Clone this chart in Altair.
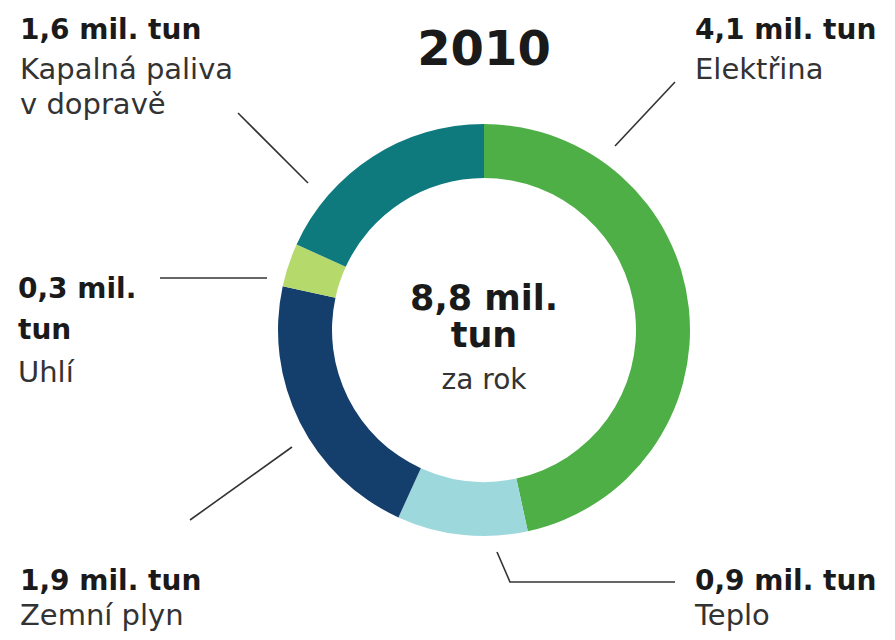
import altair as alt
import pandas as pd

# ---- data ----
categories = ["Elektřina", "Teplo", "Zemní plyn", "Uhlí", "Kapalná paliva v dopravě"]
values = [4.1, 0.9, 1.9, 0.3, 1.6]
colors = ["#4daf46", "#9dd8dc", "#143f6c", "#b6d96b", "#0e7a7e"]
year = "2010"
total_lines = ["8,8 mil.", "tun"]
total_sub = "za rok"

def fmt(v):
    return f"{v:.1f}".replace(".", ",") + " mil. tun"

# ---- layout (chart coords; page margin 8px) ----
W, H = 879, 624
CX, CY = 476, 322
R_OUT, R_IN = 206, 152
FONT = "DejaVu Sans"
B_SIZE, R_SIZE = 28, 29

pie_df = pd.DataFrame({"cat": categories, "val": values, "ord": list(range(len(categories)))})

donut = alt.Chart(pie_df).mark_arc(radius=R_OUT, radius2=R_IN, stroke=None).encode(
    theta=alt.Theta("val:Q", stack=True),
    order=alt.Order("ord:Q"),
    color=alt.Color("cat:N", scale=alt.Scale(domain=categories, range=colors), legend=None),
    x=alt.value(CX),
    y=alt.value(CY),
)

bold_left = pd.DataFrame({
    "t": [fmt(values[4]), "0,3 mil.", "tun", fmt(values[2]), fmt(values[0]), fmt(values[1])],
    "x": [12, 10, 10, 12, 687, 687],
    "y": [31, 290, 331, 582, 31, 582],
})
reg_left = pd.DataFrame({
    "t": ["Kapalná paliva", "v dopravě", "Uhlí", "Zemní plyn", "Elektřina", "Teplo"],
    "x": [12, 12, 10, 12, 687, 687],
    "y": [71, 106, 374, 617, 71, 617],
})

def txt(df, size, weight, align="left"):
    return alt.Chart(df).mark_text(
        font=FONT, fontSize=size, fontWeight=weight, align=align,
        baseline="alphabetic", color="#1a1a1a" if weight == "bold" else "#333333",
    ).encode(
        x=alt.X("x:Q", scale=None, axis=None),
        y=alt.Y("y:Q", scale=None, axis=None),
        text="t:N",
    )

title_df = pd.DataFrame({"t": [year], "x": [CX], "y": [57]})
center_b = pd.DataFrame({"t": total_lines, "x": [CX, CX], "y": [302, 339]})
center_r = pd.DataFrame({"t": [total_sub], "x": [CX], "y": [381]})

lines_df = pd.DataFrame({
    "id": [1, 1, 2, 2, 3, 3, 4, 4, 5, 5, 5],
    "i":  [0, 1, 0, 1, 0, 1, 0, 1, 0, 1, 2],
    "x":  [230, 300, 607, 667, 152, 259, 182, 284, 489, 502, 667],
    "y":  [105, 175, 138, 74, 270, 270, 512, 439, 544, 574, 574],
})
leaders = alt.Chart(lines_df).mark_line(color="#333333", strokeWidth=1.6).encode(
    x=alt.X("x:Q", scale=None, axis=None),
    y=alt.Y("y:Q", scale=None, axis=None),
    detail="id:N",
    order="i:Q",
)

chart = alt.layer(
    donut,
    leaders,
    txt(bold_left, B_SIZE, "bold"),
    txt(reg_left, R_SIZE, "normal"),
    txt(title_df, 48, "bold", "center"),
    txt(center_b, 35, "bold", "center"),
    txt(center_r, 28, "normal", "center"),
).properties(
    width=W, height=H, padding=0,
    autosize=alt.AutoSizeParams(type="none"),
).configure_view(stroke=None, strokeWidth=0)

chart.save("out.html", embed_options={"renderer": "svg", "actions": False})
